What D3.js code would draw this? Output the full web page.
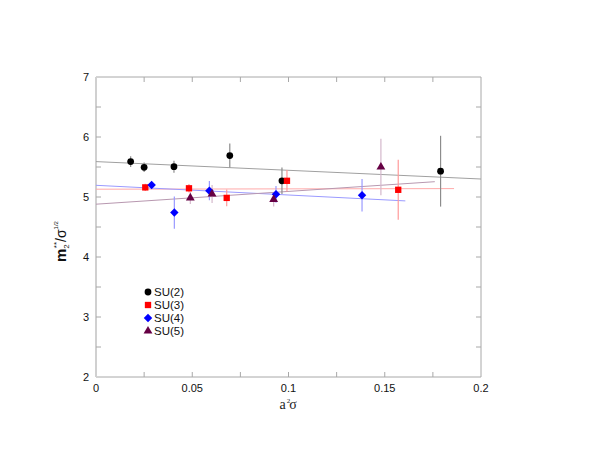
<!DOCTYPE html>
<html>
<head>
<meta charset="utf-8">
<script src="https://cdn.jsdelivr.net/npm/d3@7"></script>
<style>
  body { margin: 0; background: #fff; }
  svg { display: block; font-family: "Liberation Sans", Arial, sans-serif; }
</style>
</head>
<body>
<div id="chart"></div>
<script>
// m2**/sqrt(sigma) vs a^2 sigma for SU(N), with linear fits

const su2X = [0.018, 0.025, 0.0405, 0.0695, 0.0966, 0.179]
const su2Y = [5.59, 5.495, 5.505, 5.69, 5.27, 5.43]
const su2Err = [0.09, 0.08, 0.1, 0.2, 0.22, 0.59]

const su3X = [0.0256, 0.0483, 0.0679, 0.0992, 0.157]
const su3Y = [5.16, 5.145, 4.985, 5.27, 5.12]
const su3Err = [0.06, 0.07, 0.14, 0.18, 0.5]

const su4X = [0.0289, 0.0407, 0.0589, 0.0935, 0.1382]
const su4Y = [5.2, 4.74, 5.105, 5.045, 5.03]
const su4Err = [0.05, 0.27, 0.16, 0.14, 0.27]

const su5X = [0.049, 0.0603, 0.0923, 0.148]
const su5Y = [4.985, 5.05, 4.96, 5.5]
const su5Err = [0.1, 0.15, 0.12, 0.47]

// fit lines: [x0, y0, x1, y1]
const su2Fit = [0, 5.59, 0.2, 5.3]
const su3Fit = [0, 5.13, 0.186, 5.14]
const su4Fit = [0, 5.195, 0.1607, 4.935]
const su5Fit = [0, 4.88, 0.176, 5.255]

const legendLabels = ["SU(2)", "SU(3)", "SU(4)", "SU(5)"]
const xTicks = [0, 0.05, 0.1, 0.15, 0.2]
const xTickLabels = ["0", "0.05", "0.1", "0.15", "0.2"]
const yTicks = [2, 3, 4, 5, 6, 7]

const W = 589, H = 455
const margin = { top: 77, right: 108, bottom: 78, left: 96 }

// diamond = square turned by 45 degrees
const diamond = {
  draw(ctx, size) {
    const r = Math.sqrt(size / 2)
    ctx.moveTo(0, -r); ctx.lineTo(r, 0); ctx.lineTo(0, r); ctx.lineTo(-r, 0); ctx.closePath()
  }
}

const series = [
  { xs: su2X, ys: su2Y, err: su2Err, fit: su2Fit, shape: d3.symbolCircle, size: 36, color: "#000000", light: "#8c8c8c", fitColor: "#a0a0a0" },
  { xs: su3X, ys: su3Y, err: su3Err, fit: su3Fit, shape: d3.symbolSquare, size: 40, color: "#ff0000", light: "#ff9a9a", fitColor: "#ffaaaa" },
  { xs: su4X, ys: su4Y, err: su4Err, fit: su4Fit, shape: diamond, size: 36, color: "#0000ff", light: "#9a9aff", fitColor: "#9a9aff" },
  { xs: su5X, ys: su5Y, err: su5Err, fit: su5Fit, shape: d3.symbolTriangle, size: 34, color: "#660044", light: "#d4b8cc", fitColor: "#b898b0" }
]

const svg = d3.select("#chart").append("svg").attr("width", W).attr("height", H)

const x = d3.scaleLinear().domain([0, 0.2]).range([margin.left, W - margin.right])
const y = d3.scaleLinear().domain([2, 7]).range([H - margin.bottom, margin.top])

const axisColor = "#a8a8a8"
const tickLen = 5

// frame
const x0 = x(0), x1 = x(0.2), y0 = y(2), y1 = y(7)
svg.append("line").attr("x1", x0).attr("x2", x1).attr("y1", y0).attr("y2", y0).attr("stroke", axisColor)
svg.append("line").attr("x1", x0).attr("x2", x1).attr("y1", y1).attr("y2", y1).attr("stroke", axisColor)
svg.append("line").attr("x1", x0).attr("x2", x0).attr("y1", y0).attr("y2", y1).attr("stroke", "#d0d0d0").attr("stroke-width", 2)
svg.append("line").attr("x1", x1).attr("x2", x1).attr("y1", y0).attr("y2", y1).attr("stroke", axisColor)

// ticks (inward, on all four sides)
const xMinor = d3.range(0.025, 0.2, 0.025)
const yMinor = d3.range(2.5, 7, 0.5)
const tickG = svg.append("g").attr("stroke", axisColor)
xMinor.forEach((v) => {
  tickG.append("line").attr("x1", x(v)).attr("x2", x(v)).attr("y1", y0).attr("y2", y0 - tickLen)
  tickG.append("line").attr("x1", x(v)).attr("x2", x(v)).attr("y1", y1).attr("y2", y1 + tickLen)
})
yMinor.forEach((v) => {
  tickG.append("line").attr("x1", x0).attr("x2", x0 + tickLen).attr("y1", y(v)).attr("y2", y(v))
  tickG.append("line").attr("x1", x1).attr("x2", x1 - tickLen).attr("y1", y(v)).attr("y2", y(v))
})

// tick labels
svg.append("g").selectAll("text").data(xTicks).join("text")
  .attr("x", (d) => x(d)).attr("y", y0 + 15)
  .attr("text-anchor", "middle").attr("font-size", 11).attr("fill", "#111")
  .text((d, i) => xTickLabels[i])
svg.append("g").selectAll("text").data(yTicks).join("text")
  .attr("x", x0 - 7).attr("y", (d) => y(d) + 4)
  .attr("text-anchor", "end").attr("font-size", 11).attr("fill", "#111")
  .text((d) => d)

// axis titles
const xt = svg.append("text").attr("x", x(0.1) - 9).attr("y", 409)
  .attr("font-family", "'Liberation Serif', 'Times New Roman', serif").attr("font-size", 14).attr("fill", "#222")
xt.append("tspan").text("a")
xt.append("tspan").attr("font-size", 7).attr("dx", 1).attr("dy", -6).text("2")
xt.append("tspan").attr("dy", 6).attr("dx", -1).text("σ")

const yt = svg.append("text").attr("transform", "translate(66,262) rotate(-90)")
  .attr("font-size", 14).attr("fill", "#111")
yt.append("tspan").attr("font-weight", "bold").attr("font-size", 15).text("m")
yt.append("tspan").attr("font-size", 8).attr("dy", 3).text("2")
yt.append("tspan").attr("font-size", 8).attr("dx", -4).attr("dy", -10).text("**")
yt.append("tspan").attr("dy", 7).text("/σ")
yt.append("tspan").attr("font-size", 6).attr("dy", -8).text("1/2")

// fits
const plot = svg.append("g")
series.forEach((s) => {
  plot.append("line")
    .attr("x1", x(s.fit[0])).attr("y1", y(s.fit[1]))
    .attr("x2", x(s.fit[2])).attr("y2", y(s.fit[3]))
    .attr("stroke", s.fitColor).attr("stroke-width", 1)
})

// error bars
series.forEach((s) => {
  const pts = s.xs.map((v, i) => ({ x: v, y: s.ys[i], e: s.err[i] }))
  plot.append("g").selectAll("line").data(pts).join("line")
    .attr("x1", (d) => x(d.x)).attr("x2", (d) => x(d.x))
    .attr("y1", (d) => y(d.y - d.e)).attr("y2", (d) => y(d.y + d.e))
    .attr("stroke", s.light).attr("stroke-width", 1.2)
})

// markers
series.forEach((s) => {
  const pts = s.xs.map((v, i) => ({ x: v, y: s.ys[i] }))
  plot.append("g").selectAll("path").data(pts).join("path")
    .attr("transform", (d) => `translate(${x(d.x)},${y(d.y)})`)
    .attr("d", d3.symbol().type(s.shape).size(s.size))
    .attr("fill", s.color)
})

// legend
const leg = svg.append("g").attr("transform", "translate(148,292)")
legendLabels.forEach((lab, i) => {
  const s = series[i]
  const g = leg.append("g").attr("transform", `translate(0,${i * 13})`)
  g.append("path").attr("d", d3.symbol().type(s.shape).size(s.size)).attr("fill", s.color)
  g.append("text").attr("x", 6).attr("y", 4).attr("font-size", 11.5).attr("fill", "#111").text(lab)
})
</script>
</body>
</html>
